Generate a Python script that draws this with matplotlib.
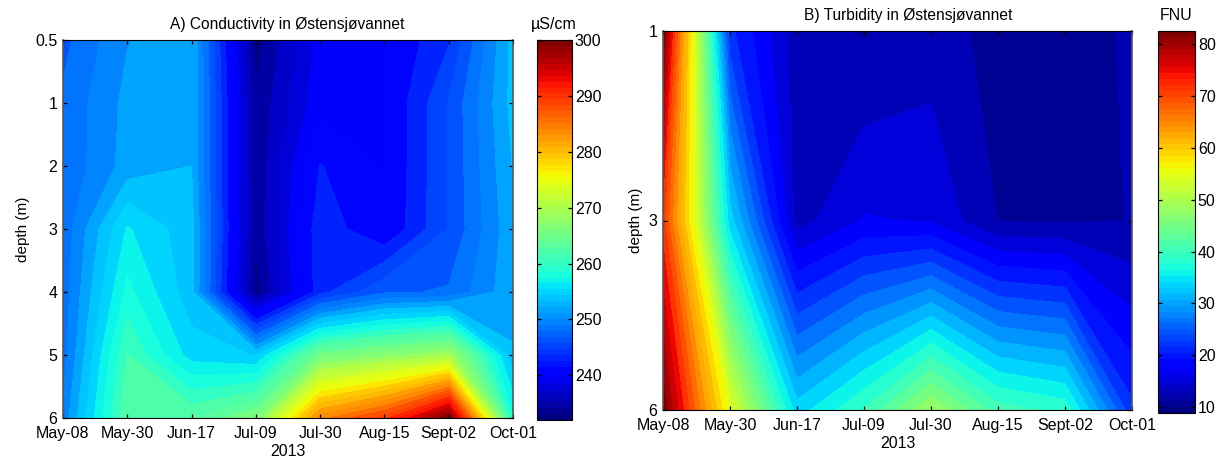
"""Conductivity and turbidity depth/time contour panels for Østensjøvannet, 2013."""
import matplotlib

matplotlib.use("Agg")
import matplotlib.pyplot as plt
from matplotlib.cm import ScalarMappable
from matplotlib.colors import Normalize
import numpy as np

W, H = 1221, 458

DATES = ["May-08", "May-30", "Jun-17", "Jul-09", "Jul-30", "Aug-15", "Sept-02", "Oct-01"]

DEPTHS_A = ["0.5", "1", "2", "3", "4", "5", "6"]
COND_05 = [246.8, 250.6, 252.4, 233, 239.5, 240.3, 243.7, 253]
COND_1 = [247.6, 251.2, 252.4, 234, 239.9, 240.3, 245.7, 253]
COND_2 = [247.6, 251.4, 252.4, 234, 242.3, 240.3, 245.7, 252.5]
COND_3 = [247.8, 256, 253, 234, 243.4, 240.5, 245.7, 252]
COND_4 = [248, 258, 253, 233, 243.3, 247, 247.5, 252]
COND_5 = [248.2, 261, 255, 254, 265, 267, 269, 252.5]
COND_6 = [249.5, 262.5, 262.5, 266, 284, 289, 300, 258]

DEPTHS_B = ["1", "3", "6"]
TURB_1 = [82, 21, 12.2, 10.95, 12.2, 10.4, 10.4, 11.4]
TURB_3 = [72, 33, 12.5, 15.95, 15.5, 11.1, 10.8, 11.2]
TURB_6 = [82, 54, 33, 39, 48, 40, 38, 21]

COND_TICKS = [240, 250, 260, 270, 280, 290, 300]
TURB_TICKS = [10, 20, 30, 40, 50, 60, 70, 80]

plt.rcParams.update({"font.family": "Liberation Sans", "font.size": 11.5})


def axes_px(fig, left, top, right, bottom):
    return fig.add_axes([left / W, 1 - bottom / H, (right - left) / W, (bottom - top) / H])


def panel(fig, box, cbox, z, depths, vmin, vmax, nlev, cticks, title, title_x, unit, unit_xy):
    ax = axes_px(fig, *box)
    cax = axes_px(fig, *cbox)
    cmap = plt.get_cmap("jet", 64)
    norm = Normalize(vmin, vmax)
    levels = np.linspace(vmin, vmax, nlev + 1)
    ax.contourf(np.arange(len(DATES)), np.arange(len(depths)), np.array(z, dtype=float),
                levels=levels, cmap=cmap, norm=norm)
    ax.invert_yaxis()
    ax.set_xticks(range(len(DATES)), DATES)
    ax.set_yticks(range(len(depths)), depths)
    ax.tick_params(direction="in", length=3, width=0.9, top=True, right=True, pad=4)
    ax.tick_params(axis="x", pad=6)
    ax.set_xlabel("2013", labelpad=2, fontsize=11.5)
    ax.set_ylabel("depth (m)", labelpad=4, fontsize=11)
    ax.set_title(title, fontsize=11.2, pad=8, x=(title_x - box[0]) / (box[2] - box[0]))
    for side in ("left", "right"):
        ax.spines[side].set_color("#585858")
        ax.spines[side].set_linewidth(1.2)

    cb = fig.colorbar(ScalarMappable(norm=norm, cmap=cmap), cax=cax)
    cb.set_ticks(cticks)
    cax.tick_params(direction="in", length=3, width=0.9, left=True, right=True, pad=2)
    fig.text(unit_xy[0] / W, 1 - unit_xy[1] / H, unit, fontsize=11.5, ha="center", va="center")


def main():
    fig = plt.figure(figsize=(W / 100, H / 100), dpi=100)
    panel(fig, (63, 40, 513, 418), (537, 40, 572, 420),
          [COND_05, COND_1, COND_2, COND_3, COND_4, COND_5, COND_6],
          DEPTHS_A, 232, 300, 40, COND_TICKS,
          "A) Conductivity in Østensjøvannet", 287, "µS/cm", (554, 24))
    panel(fig, (663, 31, 1132, 410), (1158, 31, 1195, 413),
          [TURB_1, TURB_3, TURB_6],
          DEPTHS_B, 8.85, 82.6, 32, TURB_TICKS,
          "B) Turbidity in Østensjøvannet", 908, "FNU", (1176, 15))
    fig.savefig("out.png", dpi=100)


if __name__ == "__main__":
    main()
